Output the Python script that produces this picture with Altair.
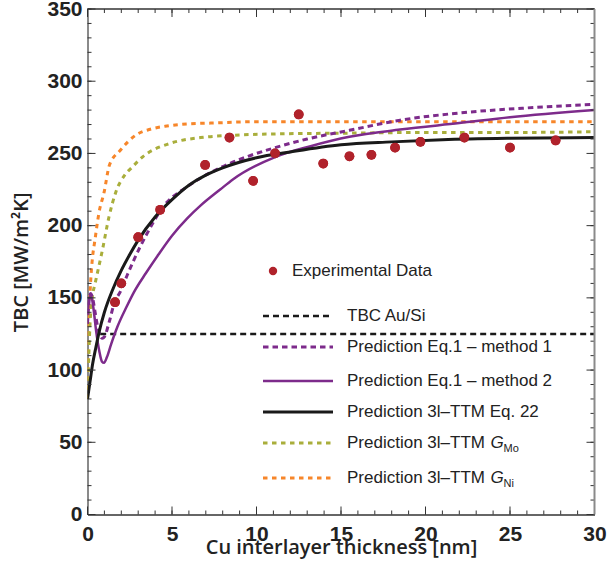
import altair as alt
import pandas as pd

# ---------------- data ----------------
exp_x = [1.63, 2.0, 3.0, 4.3, 6.96, 8.4, 9.8, 11.1, 12.5, 13.95, 15.5, 16.8, 18.2, 19.7, 22.3, 25.0, 27.7]
exp_y = [147, 160, 192, 211, 242, 261, 231, 250, 277, 243, 248, 249, 254, 258, 261, 254, 259]

tbc_x = [0.75, 30]
tbc_y = [125, 125]

m1_x = [0, 0.08, 0.18, 0.3, 0.45, 0.6, 0.75, 0.88, 1.0, 1.3, 1.6, 1.93, 2.36, 3.1, 3.5, 4.47, 5.9, 7.85, 9.5, 11.1, 13, 15.5, 18.5, 22, 26, 30]
m1_y = [132, 146, 153, 150, 140, 130, 124, 122, 123, 134, 147, 154, 166, 185, 194, 213, 227, 240, 248, 254, 260, 266, 273, 278, 281.5, 284]

m2_x = [0, 0.08, 0.2, 0.35, 0.5, 0.7, 0.85, 0.98, 1.15, 1.4, 1.77, 2.32, 2.75, 3.45, 4.2, 5.0, 5.9, 6.7, 7.85, 8.6, 11.1, 13.2, 15.5, 18.5, 22, 25, 30]
m2_y = [138, 148, 152, 143, 128, 113, 106, 105, 109, 118, 130, 144, 154, 167, 180, 193, 205, 214, 225, 232, 247.5, 255, 261.5, 266.5, 271, 275, 280]

eq22_x = [0, 0.15, 0.3, 0.5, 0.7, 1.0, 1.5, 2.0, 2.5, 3.0, 4.0, 5.0, 6.0, 7.0, 8.0, 10, 12, 15, 18, 21, 25, 30]
eq22_y = [80, 92, 104, 116, 127, 140, 156, 169, 180, 190, 206, 218, 228, 235, 240, 247, 251, 256, 258, 259.5, 260.5, 261]

gmo_x = [0, 0.05, 0.15, 0.28, 0.45, 0.6, 0.88, 1.27, 1.67, 2.2, 2.6, 3.3, 4.9, 6.7, 8.5, 11, 15, 20, 25, 30]
gmo_y = [80, 100, 132, 150, 160, 168, 183, 206, 223, 235, 240, 248, 257, 261, 262.5, 263.5, 264, 264.5, 264.5, 265]

gni_x = [0, 0.03, 0.1, 0.19, 0.28, 0.44, 0.68, 0.98, 1.3, 1.93, 2.9, 3.8, 4.7, 6, 7.3, 10, 15, 20, 30]
gni_y = [80, 114, 140, 162, 176, 190, 209, 223, 242, 252, 263, 267, 269, 270.5, 271, 272, 272, 272, 272]

x_major = [0, 5, 10, 15, 20, 25, 30]
x_minor = list(range(0, 31))
y_major = [0, 50, 100, 150, 200, 250, 300, 350]
y_minor = list(range(0, 351, 10))

legend_labels = ["TBC Au/Si", "Prediction Eq.1 – method 1", "Prediction Eq.1 – method 2",
                 "Prediction 3l–TTM Eq. 22", "Prediction 3l–TTM", "Prediction 3l–TTM"]
legend_subs = ["Mo", "Ni"]

# ---------------- styling ----------------
W, H = 507, 505.5
PURPLE = "#7D2B8B"
OLIVE = "#A9AE3B"
ORANGE = "#F7862A"
RED = "#B0222B"
BLACK = "#1a1a1a"
TICK = "#333333"

xs = alt.Scale(domain=[0, 30], nice=False, zero=False, padding=0)
ys = alt.Scale(domain=[0, 350], nice=False, zero=False, padding=0)


def curve(xv, yv, color, width, dash=None):
    df = pd.DataFrame({"x": xv, "y": yv})
    kw = dict(color=color, strokeWidth=width, interpolate="monotone", clip=True)
    if dash:
        kw["strokeDash"] = dash
    return alt.Chart(df).mark_line(**kw).encode(
        x=alt.X("x:Q", scale=xs, axis=None),
        y=alt.Y("y:Q", scale=ys, axis=None),
    )


def ticks(vals, length, side):
    df = pd.DataFrame({"v": vals})
    m = alt.Chart(df).mark_rule(color=TICK, strokeWidth=1)
    if side == "left":
        return m.encode(y=alt.Y("v:Q", scale=ys, axis=None), x=alt.value(0), x2=alt.value(length))
    if side == "right":
        return m.encode(y=alt.Y("v:Q", scale=ys, axis=None), x=alt.value(W - length), x2=alt.value(W))
    if side == "bottom":
        return m.encode(x=alt.X("v:Q", scale=xs, axis=None), y=alt.value(H - length), y2=alt.value(H))
    return m.encode(x=alt.X("v:Q", scale=xs, axis=None), y=alt.value(0), y2=alt.value(length))


one = pd.DataFrame({"a": [0]})
top_line = alt.Chart(one).mark_rule(color=TICK, strokeWidth=1.5).encode(
    x=alt.value(0), x2=alt.value(W), y=alt.value(0))
right_line = alt.Chart(one).mark_rule(color="#8a8a8a", strokeWidth=2).encode(
    x=alt.value(W), y=alt.value(0), y2=alt.value(H))

points = alt.Chart(pd.DataFrame({"x": exp_x, "y": exp_y})).mark_circle(
    color=RED, opacity=1, size=95
).encode(
    x=alt.X("x:Q", scale=xs, axis=alt.Axis(
        values=x_major, format="d", title="Cu interlayer thickness [nm]",
        grid=False, ticks=False, tickSize=0, labelPadding=9, labelFlush=False,
        labelFont="Liberation Sans", labelFontWeight="bold", labelFontSize=21, labelColor="#222",
        domainColor=TICK, domainWidth=1.5,
        titleFont="Open Sans", titleFontWeight=600, titleFontSize=20, titleColor="#222",
        titleY=22.5, titleBaseline="top")),
    y=alt.Y("y:Q", scale=ys, axis=alt.Axis(
        values=y_major, format="d", title="TBC [MW/m²K]",
        grid=False, ticks=False, tickSize=0, labelPadding=5.5, labelFlush=False,
        labelFont="Liberation Sans", labelFontWeight="bold", labelFontSize=21, labelColor="#222",
        domainColor="#8a8a8a", domainWidth=2,
        titleFont="Open Sans", titleFontWeight=600, titleFontSize=20, titleColor="#222",
        titleX=-66, titleBaseline="middle", titleAngle=-90)),
)

# ---------------- legend (pixel positions inside plot) ----------------
LX1, LX2, TX = 175.5, 245.5, 259.5
row_y = [307, 338, 372, 403, 434, 469]
row_style = [
    (BLACK, 2.5, [6, 4]),
    (PURPLE, 3, [5.5, 4]),
    (PURPLE, 2.5, None),
    (BLACK, 3, None),
    (OLIVE, 3, [4.5, 4.5]),
    (ORANGE, 3, [4.5, 4.5]),
]

legend_layers = []
exp_leg = alt.Chart(pd.DataFrame({"x": [185.5], "y": [262]})).mark_circle(
    color=RED, opacity=1, size=70).encode(
    x=alt.X("x:Q", scale=None, axis=None), y=alt.Y("y:Q", scale=None, axis=None))
exp_txt = alt.Chart(pd.DataFrame({"x": [204.5], "y": [262], "t": ["Experimental Data"]})).mark_text(
    align="left", baseline="middle", font="Liberation Sans", fontSize=17, color="#222").encode(
    x=alt.X("x:Q", scale=None, axis=None), y=alt.Y("y:Q", scale=None, axis=None), text="t:N")
legend_layers += [exp_leg, exp_txt]

for lab, yy, (col, sw, dash) in zip(legend_labels, row_y, row_style):
    kw = dict(color=col, strokeWidth=sw)
    if dash:
        kw["strokeDash"] = dash
    ln = alt.Chart(pd.DataFrame({"x1": [LX1], "x2": [LX2], "y": [yy]})).mark_rule(**kw).encode(
        x=alt.X("x1:Q", scale=None, axis=None), x2="x2:Q", y=alt.Y("y:Q", scale=None, axis=None))
    tx = alt.Chart(pd.DataFrame({"x": [TX], "y": [yy], "t": [lab]})).mark_text(
        align="left", baseline="middle", font="Liberation Sans", fontSize=17, color="#222").encode(
        x=alt.X("x:Q", scale=None, axis=None), y=alt.Y("y:Q", scale=None, axis=None), text="t:N")
    legend_layers += [ln, tx]

for sub, yy in zip(legend_subs, row_y[4:]):
    g = alt.Chart(pd.DataFrame({"x": [TX + 143.5], "y": [yy], "t": ["G"]})).mark_text(
        align="left", baseline="middle", font="Liberation Sans", fontSize=17, fontStyle="italic",
        color="#222").encode(
        x=alt.X("x:Q", scale=None, axis=None), y=alt.Y("y:Q", scale=None, axis=None), text="t:N")
    s = alt.Chart(pd.DataFrame({"x": [TX + 156.5], "y": [yy + 6], "t": [sub]})).mark_text(
        align="left", baseline="middle", font="Liberation Sans", fontSize=11, color="#222").encode(
        x=alt.X("x:Q", scale=None, axis=None), y=alt.Y("y:Q", scale=None, axis=None), text="t:N")
    legend_layers += [g, s]

layers = [
    points,
    curve(tbc_x, tbc_y, BLACK, 2.5, [6, 4]),
    curve(gni_x, gni_y, ORANGE, 3, [4.5, 4.5]),
    curve(gmo_x, gmo_y, OLIVE, 3, [4.5, 4.5]),
    curve(m1_x, m1_y, PURPLE, 3, [5.5, 4]),
    curve(m2_x, m2_y, PURPLE, 2.5),
    curve(eq22_x, eq22_y, BLACK, 3),
    points.encode(x=alt.X("x:Q", scale=xs, axis=None), y=alt.Y("y:Q", scale=ys, axis=None)),
    ticks(y_major, 8, "left"), ticks(y_minor, 4, "left"),
    ticks(y_major, 8, "right"), ticks(y_minor, 4, "right"),
    ticks(x_major, 8, "bottom"), ticks(x_minor, 4, "bottom"),
    ticks(x_major, 8, "top"), ticks(x_minor, 4, "top"),
    top_line, right_line,
] + legend_layers

chart = alt.layer(*layers).resolve_axis(x="independent", y="independent").properties(
    width=W, height=H,
    autosize=alt.AutoSizeParams(type="none"),
    padding={"left": 87.5, "top": 9, "right": 12.5, "bottom": 69.5},
    background="white",
).configure_view(stroke=None)

chart.save("out.html", embed_options={"renderer": "svg", "actions": False})
